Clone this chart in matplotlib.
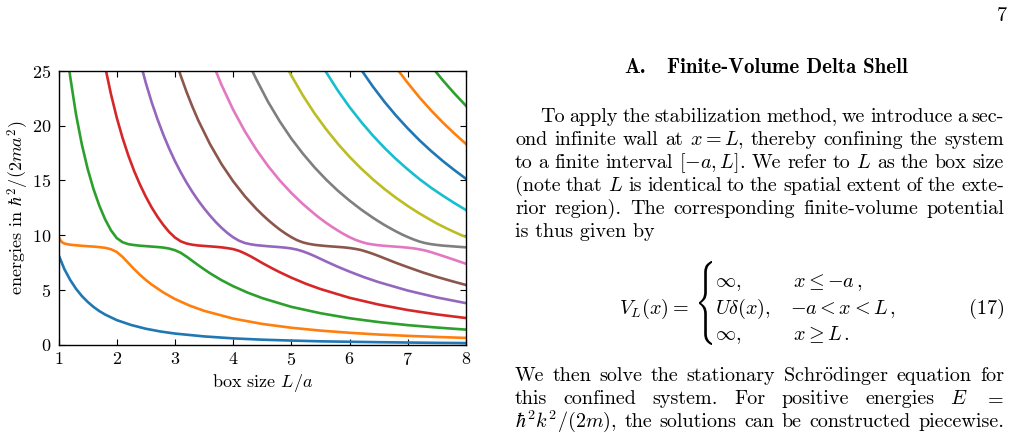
import re
import matplotlib
matplotlib.use("Agg")
import matplotlib.pyplot as plt
from matplotlib.textpath import TextPath
from matplotlib.patches import PathPatch
from matplotlib.transforms import Affine2D, IdentityTransform

plt.rcParams['font.family'] = 'serif'
plt.rcParams['font.serif'] = ['cmr10']
plt.rcParams['mathtext.fontset'] = 'cm'
plt.rcParams['axes.formatter.use_mathtext'] = True

# energy levels (box size L/a, energy)
L1 = [1.0, 1.1, 1.2, 1.3, 1.4, 1.5, 1.6, 1.7, 1.8, 2.0, 2.25, 2.5, 2.75, 3.0, 3.5, 4.0, 4.5, 5.0, 5.5, 6.0, 6.5, 7.0, 7.5, 8.0]
E1 = [8.2, 6.9, 5.91, 5.10, 4.44, 3.90, 3.44, 3.06, 2.74, 2.23, 1.78, 1.44, 1.19, 1.00, 0.74, 0.56, 0.44, 0.36, 0.29, 0.25, 0.21, 0.18, 0.15, 0.13]

L2 = [1.0, 1.03, 1.06, 1.1, 1.2, 1.4, 1.6, 1.7, 1.8, 1.9, 2.0, 2.1, 2.2, 2.3, 2.4, 2.5, 2.6, 2.8, 3.0, 3.25, 3.5, 4.0, 4.5, 5.0, 5.5, 6.0, 6.5, 7.0, 7.5, 8.0]
E2 = [9.85, 9.55, 9.35, 9.23, 9.12, 9.02, 8.95, 8.90, 8.84, 8.71, 8.46, 8.01, 7.45, 6.89, 6.37, 5.90, 5.48, 4.76, 4.16, 3.56, 3.08, 2.37, 1.88, 1.53, 1.27, 1.07, 0.91, 0.79, 0.69, 0.60]

L3 = [1.15, 1.2, 1.3, 1.4, 1.5, 1.6, 1.7, 1.8, 1.9, 2.0, 2.1, 2.2, 2.3, 2.4, 2.5, 2.6, 2.7, 2.8, 2.9, 3.0, 3.1, 3.2, 3.3, 3.4, 3.5, 3.6, 3.8, 4.0, 4.25, 4.5, 5.0, 5.5, 6.0, 6.5, 7.0, 7.5, 8.0]
E3 = [26.55, 24.51, 21.06, 18.31, 16.07, 14.23, 12.71, 11.45, 10.45, 9.73, 9.35, 9.17, 9.09, 9.03, 8.99, 8.95, 8.91, 8.86, 8.77, 8.62, 8.38, 8.03, 7.64, 7.25, 6.88, 6.52, 5.88, 5.33, 4.74, 4.24, 3.44, 2.86, 2.40, 2.05, 1.77, 1.55, 1.36]

L4 = [1.8, 1.9, 2.0, 2.1, 2.2, 2.3, 2.4, 2.5, 2.6, 2.7, 2.8, 2.9, 3.0, 3.1, 3.2, 3.3, 3.4, 3.5, 3.6, 3.7, 3.8, 3.9, 4.0, 4.1, 4.2, 4.3, 4.4, 4.5, 4.6, 4.7, 4.8, 5.0, 5.25, 5.5, 6.0, 6.5, 7.0, 7.5, 8.0]
E4 = [25.42, 22.91, 20.75, 18.89, 17.27, 15.85, 14.61, 13.51, 12.53, 11.68, 10.93, 10.29, 9.78, 9.43, 9.23, 9.12, 9.05, 9.01, 8.97, 8.93, 8.88, 8.81, 8.72, 8.56, 8.33, 8.06, 7.76, 7.45, 7.16, 6.88, 6.61, 6.11, 5.55, 5.07, 4.27, 3.65, 3.15, 2.75, 2.42]

L5 = [2.4, 2.5, 2.6, 2.7, 2.8, 2.9, 3.0, 3.1, 3.2, 3.3, 3.4, 3.5, 3.6, 3.7, 3.8, 3.9, 4.0, 4.1, 4.2, 4.3, 4.4, 4.5, 4.6, 4.7, 4.8, 4.9, 5.0, 5.1, 5.2, 5.3, 5.4, 5.5, 5.6, 5.7, 5.8, 6.0, 6.25, 6.5, 7.0, 7.5, 8.0]
E5 = [25.90, 23.91, 22.15, 20.60, 19.19, 17.92, 16.77, 15.74, 14.80, 13.94, 13.16, 12.45, 11.80, 11.20, 10.67, 10.20, 9.80, 9.49, 9.28, 9.16, 9.08, 9.03, 8.98, 8.94, 8.90, 8.85, 8.78, 8.67, 8.51, 8.31, 8.08, 7.83, 7.58, 7.34, 7.10, 6.66, 6.15, 5.70, 4.93, 4.30, 3.78]

L6 = [3.0, 3.1, 3.2, 3.3, 3.4, 3.6, 3.8, 4.0, 4.2, 4.4, 4.5, 4.6, 4.7, 4.8, 4.9, 5.0, 5.1, 5.2, 5.3, 5.4, 5.5, 5.6, 5.7, 5.8, 5.9, 6.0, 6.1, 6.2, 6.3, 6.4, 6.5, 6.6, 6.7, 6.8, 7.0, 7.25, 7.5, 7.75, 8.0]
E6 = [26.18, 24.56, 23.08, 21.74, 20.50, 18.34, 16.49, 14.92, 13.56, 12.39, 11.87, 11.38, 10.93, 10.51, 10.14, 9.81, 9.53, 9.33, 9.20, 9.11, 9.05, 9.00, 8.96, 8.92, 8.88, 8.82, 8.74, 8.63, 8.47, 8.29, 8.09, 7.88, 7.67, 7.46, 7.07, 6.60, 6.18, 5.80, 5.44]

L7 = [3.65, 3.8, 4.0, 4.2, 4.4, 4.6, 4.8, 5.0, 5.2, 5.4, 5.5, 5.6, 5.7, 5.8, 5.9, 6.0, 6.1, 6.2, 6.3, 6.4, 6.5, 6.6, 6.7, 6.8, 6.9, 7.0, 7.1, 7.2, 7.3, 7.4, 7.5, 7.6, 7.7, 7.8, 7.9, 8.0]
E7 = [25.69, 23.73, 21.46, 19.50, 17.80, 16.31, 15.00, 13.85, 12.83, 11.92, 11.50, 11.11, 10.75, 10.41, 10.09, 9.81, 9.57, 9.38, 9.23, 9.14, 9.07, 9.02, 8.98, 8.94, 8.90, 8.85, 8.79, 8.70, 8.59, 8.44, 8.27, 8.10, 7.92, 7.74, 7.56, 7.38]

L8 = [4.3, 4.4, 4.6, 4.8, 5.0, 5.2, 5.4, 5.6, 5.8, 6.0, 6.2, 6.4, 6.5, 6.6, 6.7, 6.8, 6.9, 7.0, 7.1, 7.2, 7.3, 7.4, 7.5, 7.6, 7.7, 7.8, 7.9, 8.0]
E8 = [25.33, 24.22, 22.18, 20.40, 18.82, 17.43, 16.18, 15.06, 14.05, 13.15, 12.33, 11.59, 11.25, 10.92, 10.62, 10.33, 10.06, 9.82, 9.60, 9.41, 9.27, 9.17, 9.10, 9.04, 9.00, 8.96, 8.92, 8.88]

L9 = [4.9, 5.0, 5.2, 5.4, 5.6, 5.8, 6.0, 6.2, 6.4, 6.6, 6.8, 7.0, 7.2, 7.4, 7.5, 7.6, 7.7, 7.8, 7.9, 8.0]
E9 = [25.57, 24.58, 22.75, 21.11, 19.66, 18.34, 17.15, 16.08, 15.10, 14.21, 13.40, 12.66, 11.98, 11.36, 11.06, 10.79, 10.53, 10.28, 10.04, 9.82]

L10 = [5.5, 5.6, 5.8, 6.0, 6.2, 6.4, 6.6, 6.8, 7.0, 7.2, 7.4, 7.6, 7.8, 8.0]
E10 = [25.77, 24.87, 23.20, 21.70, 20.34, 19.10, 17.97, 16.94, 16.00, 15.12, 14.33, 13.61, 12.93, 12.29]

L11 = [6.2, 6.4, 6.6, 6.8, 7.0, 7.2, 7.4, 7.6, 7.8, 8.0]
E11 = [25.11, 23.58, 22.18, 20.91, 19.75, 18.67, 17.69, 16.78, 15.94, 15.15]

L12 = [6.8, 7.0, 7.2, 7.4, 7.6, 7.8, 8.0]
E12 = [25.30, 23.90, 22.59, 21.40, 20.30, 19.29, 18.33]

L13 = [7.4, 7.6, 7.8, 8.0]
E13 = [25.47, 24.16, 22.95, 21.82]

levels = [(L1, E1), (L2, E2), (L3, E3), (L4, E4), (L5, E5), (L6, E6), (L7, E7),
          (L8, E8), (L9, E9), (L10, E10), (L11, E11), (L12, E12), (L13, E13)]

# text of the page column on the right
paragraph1 = [
    "To apply the stabilization method, we introduce a sec-",
    "ond infinite wall at $x = L$, thereby confining the system",
    "to a finite interval $[-a, L]$. We refer to $L$ as the box size",
    "(note that $L$ is identical to the spatial extent of the exte-",
    "rior region).  The corresponding finite-volume potential",
]
paragraph2 = [
    r"We then solve the stationary Schr$\ddot{\mathrm{o}}$dinger equation for",
    "this confined system.   For positive energies $E$ $=$",
    r"$\hbar^2k^2/(2m)$, the solutions can be constructed piecewise.",
]

W, H = 1016, 433
FS = 14.5
fig = plt.figure(figsize=(W / 100, H / 100), dpi=100)

####################################
ax = fig.add_axes([58.5 / W, 1 - 344.5 / H, (466 - 58.5) / W, (344.5 - 71) / H])
for L, E in levels:
    ax.plot(L, E, lw=1.9)
ax.set_xlim(1, 8)
ax.set_ylim(0, 25)
ax.set_xticks(range(1, 9))
ax.set_yticks([0, 5, 10, 15, 20, 25])
ax.tick_params(direction='in', top=True, right=True, length=4, width=0.8,
               labelsize=13, pad=5)
for sp in ax.spines.values():
    sp.set_linewidth(1.0)
ax.set_xlabel('box size $L/a$', fontsize=13)
ax.set_ylabel(r'energies in $\hbar^2/(2ma^2)$', fontsize=13)
ax.xaxis.set_label_coords(0.5, -0.1)
ax.yaxis.set_label_coords(-0.068, 0.5)

####################################
renderer = fig.canvas.get_renderer()


def ftext(x, y, s, **kw):
    kw.setdefault('fontsize', FS)
    return fig.text(x / W, 1 - y / H, s, va='baseline', **kw)


def justify(line, y, x0, x1=1004):
    words = re.findall(r'(?:\$[^$]*\$|\S)+', line)
    arts = [ftext(0, y, w) for w in words]
    widths = [a.get_window_extent(renderer).width for a in arts]
    gap = (x1 - x0 - sum(widths)) / (len(words) - 1)
    x = x0
    for a, w in zip(arts, widths):
        a.set_x(x / W)
        x += w + gap


ftext(1007, 21, '7', ha='right')
ftext(624, 73, 'A.', family='cmb10', fontsize=15)
ftext(667, 73, 'Finite-Volume Delta Shell', family='cmb10', fontsize=15)

for i, line in enumerate(paragraph1):
    justify(line, 122 + 23 * i, 540 if i == 0 else 515)
ftext(515, 237, 'is thus given by')
for i, line in enumerate(paragraph2):
    justify(line, 381 + 23 * i, 515)

# equation (17)
ftext(689, 314, r'$V_L(x) =$', ha='right')
brace = TextPath((0, 0), r'$\{$', size=20)
ext = brace.get_extents()
tr = (Affine2D().translate(-ext.x0, -ext.y0)
      .scale(13 / ext.width, 84 / ext.height)
      .translate(699, H - 345))
fig.add_artist(PathPatch(tr.transform_path(brace), facecolor='black',
                         edgecolor='none', transform=IdentityTransform()))
ftext(715, 287, r'$\infty,$')
ftext(715, 314, r'$U\delta(x),$')
ftext(715, 340, r'$\infty,$')
ftext(793, 287, r'$x \leq {-a}\,,$')
ftext(790, 314, r'$-a < x < L\,,$')
ftext(793, 340, r'$x \geq L\,.$')
ftext(1005, 314, '(17)', ha='right')

plt.savefig('out.png', dpi=100)
